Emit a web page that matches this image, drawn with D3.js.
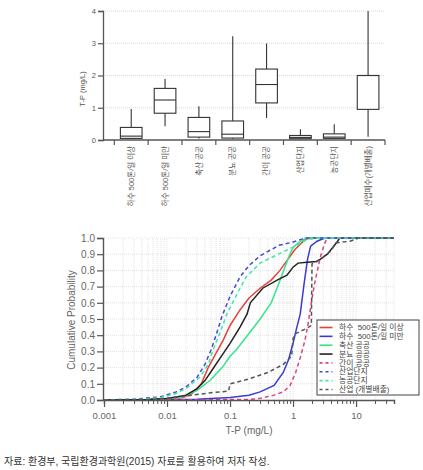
<!DOCTYPE html>
<html><head><meta charset="utf-8">
<script src="https://cdn.jsdelivr.net/npm/d3@7"></script>
<style>
body{margin:0;background:#fff}
svg{display:block}
text{font-family:"Liberation Sans","Noto Sans CJK KR",sans-serif}
</style>
</head><body>
<svg id="c" width="423" height="470"></svg>
<script>
// ---------- Box plot data ----------
const boxCategories = ["하수 500톤/일 이상","하수 500톤/일 미만","축산 공공","분뇨 공공","간이 공공","산업단지","농공단지","산업폐수(개별배출)"];
const boxWhiskerLow  = [0.03, 0.43, 0.05, 0.03, 0.68, 0.02, 0.03, 0.10];
const boxQ1          = [0.05, 0.83, 0.09, 0.06, 1.15, 0.04, 0.05, 0.95];
const boxMedian      = [0.12, 1.24, 0.26, 0.18, 1.72, 0.08, 0.09, 2.00];
const boxQ3          = [0.39, 1.60, 0.70, 0.59, 2.20, 0.14, 0.19, 2.00];
const boxWhiskerHigh = [0.96, 1.89, 1.05, 3.22, 2.99, 0.33, 0.49, 4.00];
const boxYTicks = [0, 1, 2, 3, 4];

// ---------- CDF data: [T-P (mg/L), cumulative probability] ----------
const cdfSewageLarge = [[0.001,0],[0.005,0.003],[0.01,0.01],[0.018,0.015],[0.025,0.04],[0.035,0.1],[0.045,0.2],[0.06,0.29],[0.078,0.37],[0.1,0.46],[0.144,0.556],[0.2,0.63],[0.3,0.69],[0.45,0.74],[0.62,0.8],[0.8,0.86],[1.08,0.93],[1.55,0.99],[1.85,1],[40,1]];
const cdfSewageSmall = [[0.001,0],[0.01,0.001],[0.03,0.004],[0.1,0.015],[0.2,0.03],[0.3,0.05],[0.5,0.09],[0.7,0.17],[0.85,0.25],[1.0,0.35],[1.15,0.45],[1.3,0.53],[1.5,0.72],[1.7,0.87],[1.9,0.95],[2.4,0.98],[3.2,1],[40,1]];
const cdfLivestock   = [[0.001,0],[0.005,0.003],[0.01,0.008],[0.018,0.02],[0.03,0.06],[0.048,0.12],[0.075,0.2],[0.1,0.27],[0.126,0.31],[0.19,0.4],[0.3,0.5],[0.45,0.6],[0.57,0.7],[0.71,0.8],[0.89,0.9],[1.0,0.94],[1.2,0.97],[1.6,1],[40,1]];
const cdfNightSoil   = [[0.001,0],[0.005,0.003],[0.01,0.01],[0.02,0.03],[0.03,0.07],[0.04,0.12],[0.052,0.185],[0.07,0.26],[0.1,0.35],[0.144,0.45],[0.186,0.53],[0.21,0.6],[0.33,0.69],[0.56,0.74],[0.8,0.77],[1.0,0.82],[1.2,0.845],[1.66,0.85],[2.4,0.855],[3.5,0.9],[5.0,0.975],[5.5,1],[40,1]];
const cdfSimple      = [[0.001,0],[0.2,0.003],[0.3,0.01],[0.5,0.03],[0.7,0.05],[0.9,0.09],[1.1,0.17],[1.3,0.26],[1.55,0.37],[1.75,0.48],[1.95,0.6],[2.2,0.72],[2.7,0.88],[3.2,0.97],[3.5,1],[40,1]];
const cdfIndustrial  = [[0.001,0],[0.003,0.005],[0.008,0.02],[0.014,0.05],[0.02,0.08],[0.03,0.14],[0.04,0.22],[0.05,0.31],[0.06,0.4],[0.075,0.52],[0.1,0.64],[0.144,0.76],[0.2,0.83],[0.3,0.89],[0.6,0.955],[1.0,0.975],[1.3,0.99],[1.6,1],[40,1]];
const cdfAgriInd     = [[0.001,0],[0.004,0.005],[0.008,0.015],[0.014,0.04],[0.02,0.07],[0.033,0.14],[0.045,0.22],[0.054,0.31],[0.07,0.42],[0.089,0.53],[0.12,0.63],[0.144,0.69],[0.18,0.76],[0.3,0.845],[0.62,0.905],[1.08,0.95],[1.66,0.99],[2.5,1],[40,1]];
const cdfIndividual  = [[0.001,0],[0.005,0.003],[0.01,0.01],[0.02,0.025],[0.05,0.045],[0.095,0.055],[0.1,0.1],[0.2,0.13],[0.4,0.17],[0.7,0.22],[0.95,0.27],[1.0,0.38],[1.1,0.41],[1.6,0.44],[1.95,0.46],[2.0,0.84],[3,0.88],[4,0.92],[4.8,0.97],[8,0.98],[11,1],[40,1]];

const legendNames = ["하수  500톤/일 이상","하수  500톤/일 미만","축산 공공","분뇨 공공","간이 공공","산업단지","농공단지","산업 (개별배출)"];
const seriesColors = ["#e8413c","#3a3ad4","#35e58c","#222222","#e0407a","#4646d8","#3de8a8","#555555"];
const seriesDashed = [false,false,false,false,true,true,true,true];
const cdfData = [cdfSewageLarge,cdfSewageSmall,cdfLivestock,cdfNightSoil,cdfSimple,cdfIndustrial,cdfAgriInd,cdfIndividual];
const cdfMajorTicks = [0.001,0.01,0.1,1,10];
const cdfYTicks = [0,0.1,0.2,0.3,0.4,0.5,0.6,0.7,0.8,0.9,1.0];

const svg = d3.select("#c");
svg.append("rect").attr("width",423).attr("height",470).attr("fill","#fff");

// ================= TOP: box plot =================
const yTop = d3.scaleLinear().domain([0,4]).range([140,11]);
const xBand = d3.scaleBand().domain(boxCategories).range([114.3,385]);
const gTop = svg.append("g");

gTop.selectAll("line.grid").data(boxYTicks.filter(d=>d>0)).join("line")
  .attr("x1",103).attr("x2",385).attr("y1",d=>yTop(d)).attr("y2",d=>yTop(d))
  .attr("stroke","#cfcfcf").attr("stroke-width",0.8).attr("stroke-dasharray","1,1");

const yAxisTop = gTop.append("g").attr("transform","translate(103,0)")
  .call(d3.axisLeft(yTop).tickValues(boxYTicks).tickSize(5).tickFormat(d3.format("d")));
yAxisTop.select(".domain").attr("stroke","#555").attr("stroke-width",1.3);
yAxisTop.selectAll(".tick line").attr("stroke","#555").attr("stroke-width",1.2);
yAxisTop.selectAll(".tick text").attr("font-size",7.5).attr("fill","#555").attr("x",-7);

gTop.append("line").attr("x1",103).attr("x2",385).attr("y1",140).attr("y2",140)
  .attr("stroke","#555").attr("stroke-width",1.3);
const seps = boxCategories.map(c=>xBand(c)).concat([xBand.range()[1]]);
gTop.selectAll("line.sep").data(seps).join("line")
  .attr("x1",d=>d).attr("x2",d=>d).attr("y1",140).attr("y2",145)
  .attr("stroke","#555").attr("stroke-width",1.2);

gTop.append("text").attr("transform","translate(82,89) rotate(-90)")
  .attr("text-anchor","middle").attr("dy","0.35em")
  .attr("font-size",7.5).attr("fill","#555").text("T-P (mg/L)");

const bw = xBand.bandwidth()*0.64;
boxCategories.forEach((c,i)=>{
  const cx = xBand(c)+xBand.bandwidth()/2;
  const g = gTop.append("g").attr("stroke","#333").attr("stroke-width",1.1);
  g.append("line").attr("x1",cx).attr("x2",cx).attr("y1",yTop(boxWhiskerLow[i])).attr("y2",yTop(boxQ1[i]));
  g.append("line").attr("x1",cx).attr("x2",cx).attr("y1",yTop(boxQ3[i])).attr("y2",yTop(boxWhiskerHigh[i]));
  g.append("rect").attr("x",cx-bw/2).attr("width",bw)
    .attr("y",yTop(boxQ3[i])).attr("height",yTop(boxQ1[i])-yTop(boxQ3[i]))
    .attr("fill","#fff");
  g.append("line").attr("x1",cx-bw/2).attr("x2",cx+bw/2).attr("y1",yTop(boxMedian[i])).attr("y2",yTop(boxMedian[i]));
  gTop.append("text").attr("transform",`translate(${cx},146) rotate(-90)`)
    .attr("text-anchor","end").attr("dy","0.35em")
    .attr("font-size",7.5).attr("fill","#555").text(c);
});

// ================= BOTTOM: CDF =================
const xLog = d3.scaleLog().domain([0.001,40]).range([104,394]);
const yP = d3.scaleLinear().domain([0,1]).range([400,238]);
const gB = svg.append("g");

const minorTicks = [];
[0.001,0.01,0.1,1,10].forEach(dec=>{ for(let k=2;k<=9;k++){ const v=dec*k; if(v<=40.0001) minorTicks.push(v);} });
const gridX = minorTicks.concat(cdfMajorTicks.filter(d=>d>0.001));

gB.selectAll("line.gx").data(gridX).join("line")
  .attr("x1",d=>xLog(d)).attr("x2",d=>xLog(d)).attr("y1",400).attr("y2",238)
  .attr("stroke","#d6d6d6").attr("stroke-width",0.7).attr("stroke-dasharray","1,1");
gB.selectAll("line.gy").data(cdfYTicks.filter(d=>d>0)).join("line")
  .attr("x1",104).attr("x2",394).attr("y1",d=>yP(d)).attr("y2",d=>yP(d))
  .attr("stroke","#d6d6d6").attr("stroke-width",0.7).attr("stroke-dasharray","1,1");

const line = d3.line().x(d=>xLog(d[0])).y(d=>yP(d[1]));
cdfData.forEach((data,i)=>{
  gB.append("path").datum(data).attr("d",line).attr("fill","none")
    .attr("stroke",seriesColors[i]).attr("stroke-width",1.5)
    .attr("stroke-dasharray",seriesDashed[i]?"4,3":null);
});

const yAxB = gB.append("g").attr("transform","translate(103,0)")
  .call(d3.axisLeft(yP).tickValues(cdfYTicks).tickSize(6).tickFormat(d3.format(".1f")));
yAxB.select(".domain").attr("stroke","#555").attr("stroke-width",1.4);
yAxB.selectAll(".tick line").attr("stroke","#555").attr("stroke-width",1.2);
yAxB.selectAll(".tick text").attr("font-size",10).attr("fill","#666").attr("x",-8);

const xMinor = gB.append("g").attr("transform","translate(0,400)")
  .call(d3.axisBottom(xLog).tickValues(minorTicks).tickSize(4).tickFormat(""));
xMinor.select(".domain").attr("stroke","#555").attr("stroke-width",1.4);
xMinor.selectAll(".tick line").attr("stroke","#555").attr("stroke-width",1);
const xMajor = gB.append("g").attr("transform","translate(0,400)")
  .call(d3.axisBottom(xLog).tickValues(cdfMajorTicks).tickSize(7).tickFormat(d=>String(d)));
xMajor.select(".domain").remove();
xMajor.selectAll(".tick line").attr("stroke","#555").attr("stroke-width",1.2);
xMajor.selectAll(".tick text").attr("font-size",9.5).attr("fill","#666").attr("y",12);

gB.append("text").attr("x",249).attr("y",434).attr("text-anchor","middle")
  .attr("font-size",10).attr("fill","#666").text("T-P (mg/L)");
gB.append("text").attr("transform","translate(71,320) rotate(-90)")
  .attr("text-anchor","middle").attr("dy","0.35em")
  .attr("font-size",10).attr("fill","#666").text("Cumulative Probability");

// legend
const lg = gB.append("g");
lg.append("rect").attr("x",317).attr("y",320).attr("width",102).attr("height",75)
  .attr("fill","#fff").attr("stroke","#444").attr("stroke-width",1);
legendNames.forEach((n,i)=>{
  const y = 327.5 + i*8.85;
  lg.append("line").attr("x1",319.5).attr("x2",332.5).attr("y1",y).attr("y2",y)
    .attr("stroke",seriesColors[i]).attr("stroke-width",1.6)
    .attr("stroke-dasharray",seriesDashed[i]?"3,3":null);
  lg.append("text").attr("x",339).attr("y",y).attr("dy","0.35em")
    .style("white-space","pre")
    .attr("font-size",7.8).attr("fill","#444").text(n);
});

svg.append("text").attr("x",4).attr("y",465).attr("font-size",10).attr("fill","#333")
  .text("자료: 환경부, 국립환경과학원(2015) 자료를 활용하여 저자 작성.");
</script>
</body></html>
